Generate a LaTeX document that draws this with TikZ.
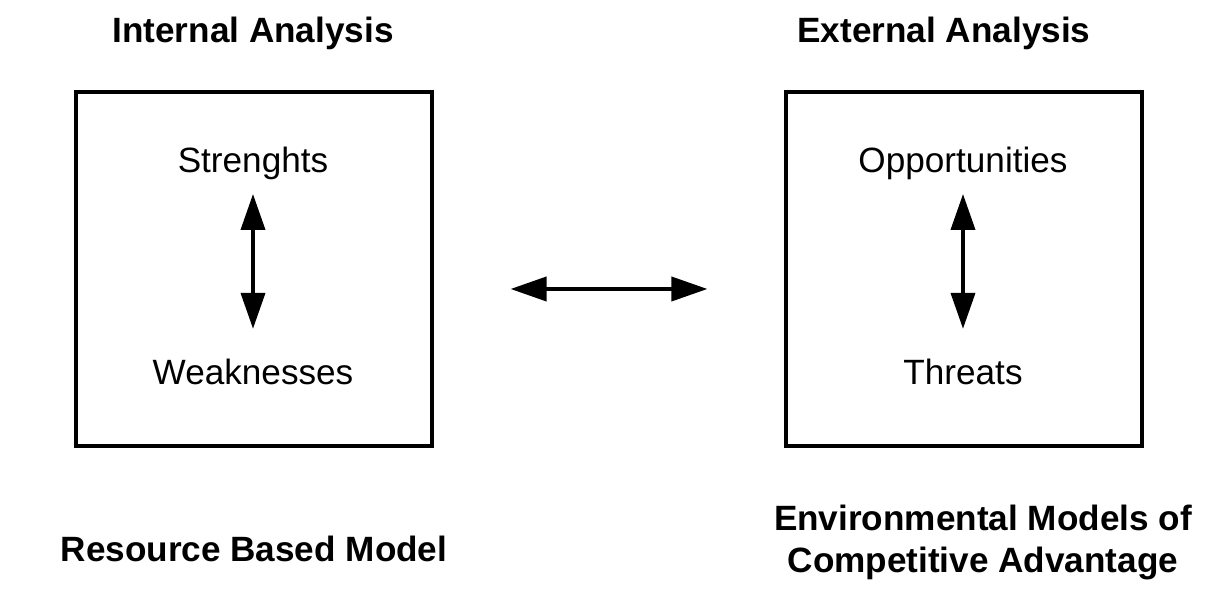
\documentclass[tikz,border=0pt]{standalone}
\usepackage{fontspec}
\setmainfont{Liberation Sans}
\usetikzlibrary{arrows.meta, positioning}

\begin{document}
\begin{tikzpicture}[
    panel/.style={draw, line width=0.9pt, minimum width=3.56cm, minimum height=3.54cm, inner sep=0pt},
    heading/.style={font=\fontsize{10}{12.2}\selectfont\bfseries, anchor=base, align=center},
    item/.style={font=\fontsize{10}{12}\selectfont, anchor=base, inner sep=0pt},
    dbl/.style={{Triangle[length=0.36cm, width=0.24cm]}-{Triangle[length=0.36cm, width=0.24cm]}, line width=1.1pt}
  ]
  \useasboundingbox (0,0) rectangle (12.26,5.98);

  % internal side
  \node[heading] (int) at (2.53,5.55) {Internal Analysis};
  \node[panel] (lbox) at (2.54,3.29) {};
  \node[item] (str) at (2.53,4.25) {Strenghts};
  \node[item] (weak) at (2.53,2.13) {Weaknesses};
  \draw[dbl, shorten <=0.13cm, shorten >=0.30cm] (str.south) -- (weak.north);
  \node[heading] (rbm) at (2.54,0.36) {Resource Based Model};

  % external side
  \node[heading] (ext) at (9.44,5.55) {External Analysis};
  \node[panel] (rbox) at (9.64,3.29) {};
  \node[item] (opp) at (9.63,4.25) {Opportunities};
  \node[item] (thr) at (9.63,2.13) {Threats};
  \draw[dbl, shorten <=0.13cm, shorten >=0.30cm] (opp.south) -- (thr.north);
  \node[heading] (env) at (9.83,0.25) {Environmental Models of\\Competitive Advantage};

  % link between the two
  \draw[dbl, shorten <=0.77cm, shorten >=0.77cm] ([yshift=-0.2cm]lbox.east) -- ([yshift=-0.2cm]rbox.west);
\end{tikzpicture}
\end{document}
